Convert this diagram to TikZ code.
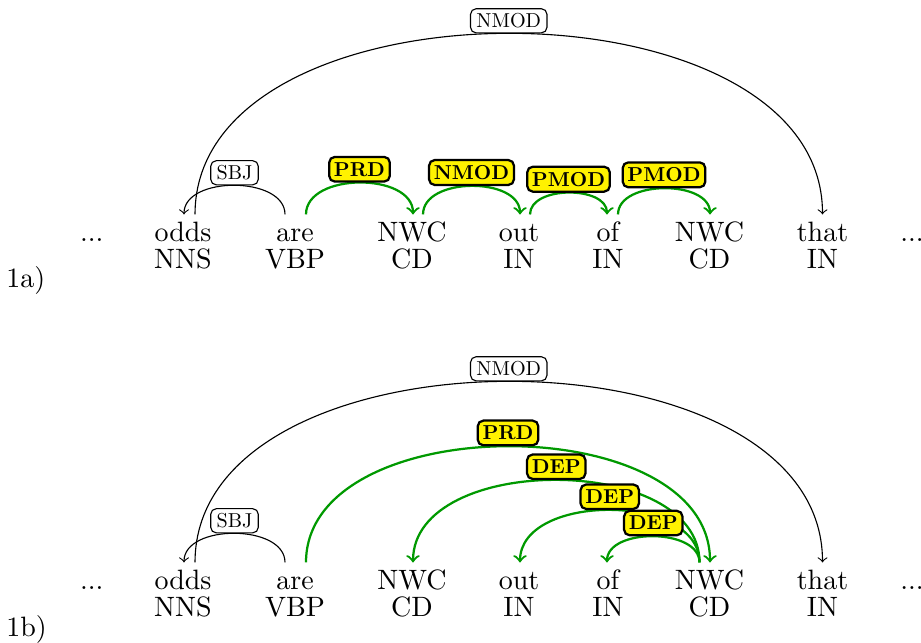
\documentclass[tikz,border=0pt]{standalone}
\usepackage{graphicx}
\usetikzlibrary{calc}
\definecolor{dgreen}{RGB}{0,153,0}
\newcommand{\lbltext}[1]{\scalebox{0.72}{#1}}
\begin{document}
\begin{tikzpicture}[x=0.357143pt,y=-0.357143pt,
  word/.style={anchor=base,inner sep=0pt,text height=7pt,text depth=0pt},
  tagw/.style={anchor=base,inner sep=0pt},
  bedge/.style={draw=black,line width=0.4pt,->},
  gedge/.style={draw=dgreen,line width=0.8pt,->},
  blbl/.style={anchor=south,draw=black,line width=0.4pt,fill=white,rounded corners=2pt,inner xsep=2.1pt,inner ysep=1.7pt},
  ylbl/.style={anchor=south,draw=black,line width=0.8pt,fill=yellow,rounded corners=2pt,inner xsep=1.7pt,inner ysep=1.9pt,font=\bfseries},
  >=to]
\useasboundingbox (0,0) rectangle (921,642);

% ---------- 1a ----------
\node[word] (a0) at (91.7,241) {...};
\node[word] (a1) at (183,241) {odds};
\node[word] (a2) at (295,241) {are};
\node[word] (a3) at (412,241) {NWC};
\node[word] (a4) at (519,241) {out};
\node[word] (a5) at (608,241) {of};
\node[word] (a6) at (709.5,241) {NWC};
\node[word] (a7) at (822.5,241) {that};
\node[word] (a8) at (912,241) {...};
\node[tagw] (a1t) at (183,268) {NNS};
\node[tagw] (a2t) at (295,268) {VBP};
\node[tagw] (a3t) at (412,268) {CD};
\node[tagw] (a4t) at (519,268) {IN};
\node[tagw] (a5t) at (608,268) {IN};
\node[tagw] (a6t) at (709.5,268) {CD};
\node[tagw] (a7t) at (822.5,268) {IN};
\node[anchor=base west,inner sep=0pt] (la) at (5.8,287.5) {1a)};

\draw[bedge] ($(a1.north)+(12,-6.4)$) .. controls +(0,-241.3) and +(0,-241.3) .. ($(a7.north)+(0,-6.4)$) coordinate[pos=0.5] (ma1);
\draw[bedge] ($(a2.north)+(-10,-6.4)$) .. controls +(0,-38.7) and +(0,-38.7) .. ($(a1.north)+(1,-6.4)$) coordinate[pos=0.5] (ma2);
\draw[gedge] ($(a2.north)+(11,-6.4)$) .. controls +(0,-42.3) and +(0,-42.3) .. ($(a3.north)+(1,-6.4)$) coordinate[pos=0.5] (ma3);
\draw[gedge] ($(a3.north)+(11,-6.4)$) .. controls +(0,-37.8) and +(0,-37.8) .. ($(a4.north)+(1,-6.4)$) coordinate[pos=0.5] (ma4);
\draw[gedge] ($(a4.north)+(11,-6.4)$) .. controls +(0,-28.9) and +(0,-28.9) .. ($(a5.north)+(-1,-6.4)$) coordinate[pos=0.5] (ma5);
\draw[gedge] ($(a5.north)+(10,-6.4)$) .. controls +(0,-34.7) and +(0,-34.7) .. ($(a6.north)+(0.5,-6.4)$) coordinate[pos=0.5] (ma6);

\node[blbl] at (ma1) {\lbltext{NMOD}};
\node[blbl] at (ma2) {\lbltext{SBJ}};
\node[ylbl] at (ma3) {\lbltext{PRD}};
\node[ylbl] at (ma4) {\lbltext{NMOD}};
\node[ylbl] at (ma5) {\lbltext{PMOD}};
\node[ylbl] at (ma6) {\lbltext{PMOD}};

% ---------- 1b ----------
\node[word] (b0) at (91.7,589) {...};
\node[word] (b1) at (183,589) {odds};
\node[word] (b2) at (295,589) {are};
\node[word] (b3) at (412,589) {NWC};
\node[word] (b4) at (519,589) {out};
\node[word] (b5) at (608,589) {of};
\node[word] (b6) at (709.5,589) {NWC};
\node[word] (b7) at (822.5,589) {that};
\node[word] (b8) at (912,589) {...};
\node[tagw] (b1t) at (183,616) {NNS};
\node[tagw] (b2t) at (295,616) {VBP};
\node[tagw] (b3t) at (412,616) {CD};
\node[tagw] (b4t) at (519,616) {IN};
\node[tagw] (b5t) at (608,616) {IN};
\node[tagw] (b6t) at (709.5,616) {CD};
\node[tagw] (b7t) at (822.5,616) {IN};
\node[anchor=base west,inner sep=0pt] (lb) at (5.8,636) {1b)};

\draw[bedge] ($(b1.north)+(12,-6.4)$) .. controls +(0,-241.3) and +(0,-241.3) .. ($(b7.north)+(0,-6.4)$) coordinate[pos=0.5] (mb1);
\draw[bedge] ($(b2.north)+(-10,-6.4)$) .. controls +(0,-38.7) and +(0,-38.7) .. ($(b1.north)+(1,-6.4)$) coordinate[pos=0.5] (mb2);
\draw[gedge] ($(b2.north)+(11,-6.4)$) .. controls +(0,-154.7) and +(0,-154.7) .. ($(b6.north)+(0.5,-6.4)$) coordinate[pos=0.5] (mb3);
\draw[gedge] ($(b6.north)+(-10,-6.4)$) .. controls +(0,-109.8) and +(0,-109.8) .. ($(b3.north)+(1,-6.4)$) coordinate[pos=0.5] (mb4);
\draw[gedge] ($(b6.north)+(-10,-6.4)$) .. controls +(0,-69.8) and +(0,-69.8) .. ($(b4.north)+(1,-6.4)$) coordinate[pos=0.5] (mb5);
\draw[gedge] ($(b6.north)+(-10,-6.4)$) .. controls +(0,-34.7) and +(0,-34.7) .. ($(b5.north)+(-1,-6.4)$) coordinate[pos=0.5] (mb6);

\node[blbl] at (mb1) {\lbltext{NMOD}};
\node[blbl] at (mb2) {\lbltext{SBJ}};
\node[ylbl] at (mb3) {\lbltext{PRD}};
\node[ylbl] at (mb4) {\lbltext{DEP}};
\node[ylbl] at (mb5) {\lbltext{DEP}};
\node[ylbl] at (mb6) {\lbltext{DEP}};
\end{tikzpicture}
\end{document}
